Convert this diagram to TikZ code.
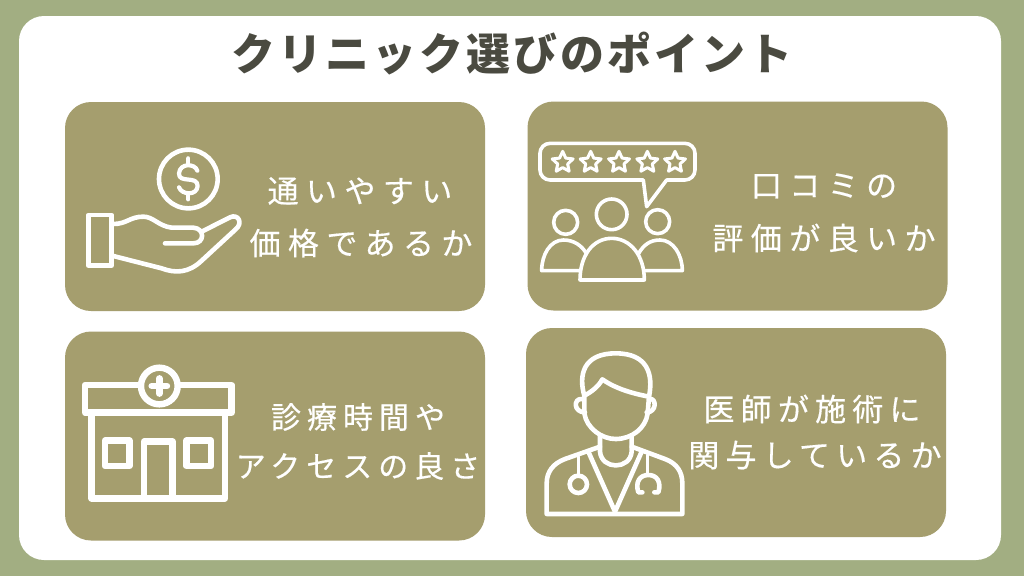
\documentclass[tikz,border=0pt]{standalone}
\usepackage{fontspec}
\usetikzlibrary{shapes.geometric, positioning}
\newfontfamily\jptitle[LetterSpace=7]{Noto Sans CJK JP}
\newfontfamily\jpwide[LetterSpace=24,FakeBold=0.4]{Noto Sans CJK JP}
\newfontfamily\jpnarrow[LetterSpace=20,FakeBold=0.4]{Noto Sans CJK JP}
\definecolor{pageback}{HTML}{A2AE82}
\definecolor{panelback}{HTML}{A59E6E}
\definecolor{titleink}{HTML}{4A4A40}

\begin{document}
\begin{tikzpicture}[
  x=1pt, y=-1pt,
  sheet/.style={draw=none, fill=white, rounded corners=25pt, minimum width=982pt, minimum height=544pt, inner sep=0pt},
  panel/.style={draw=none, fill=panelback, rounded corners=26pt, minimum width=420pt, minimum height=209pt, inner sep=0pt},
  caption/.style={text=white, align=center, inner sep=0pt},
  icon/.style={draw=white, line width=4.6pt, line join=round, line cap=round},
  thinicon/.style={icon, line width=3.6pt},
  boldicon/.style={icon, line width=6.4pt},
  starmark/.style={star, star points=5, star point ratio=2.1, draw=white, line width=3pt, minimum size=22pt, inner sep=0pt, line join=round}
]
\useasboundingbox (0,0) rectangle (1024,576);
\fill[pageback] (0,0) rectangle (1024,576);

% Sheet and title
\node[sheet] (sheet) at (510,288) {};
\node[text=titleink, inner sep=0pt] (title) at (512,54) {\jptitle\fontsize{44}{50}\selectfont\bfseries クリニック選びのポイント};

% Panels
\node[panel] (cost) at (275,206.5) {};
\node[panel] (review) at (737.5,206) {};
\node[panel] (access) at (275,436) {};
\node[panel] (doctor) at (736,432.5) {};

% Captions
\node[caption] (costtop) at (360,191) {\jpwide\fontsize{31}{36}\selectfont 通いやすい};
\node[caption] (costlow) at (361,243) {\jpwide\fontsize{31}{36}\selectfont 価格であるか};
\node[caption] (reviewtop) at (824,186) {\jpwide\fontsize{31}{36}\selectfont 口コミの};
\node[caption] (reviewlow) at (824,238) {\jpwide\fontsize{31}{36}\selectfont 評価が良いか};
\node[caption] (accesstop) at (358,417) {\jpnarrow\fontsize{30}{36}\selectfont 診療時間や};
\node[caption] (accesslow) at (358,466) {\jpnarrow\fontsize{30}{36}\selectfont アクセスの良さ};
\node[caption] (doctortop) at (812,409) {\jpnarrow\fontsize{31}{36}\selectfont 医師が施術に};
\node[caption] (doctorlow) at (815,455) {\jpnarrow\fontsize{31}{36}\selectfont 関与しているか};

% Hand and coin
\begin{scope}[shift={(65,100)}, scale=1/3]
  \draw[icon] (370,237) circle (88);
  \draw[thinicon, line width=4.2pt] (397,212) .. controls (390,190) and (345,188) .. (342,220) .. controls (340,252) and (398,225) .. (398,258) .. controls (396,288) and (350,285) .. (342,262);
  \draw[thinicon, line width=4.2pt] (370,175) -- (370,192);
  \draw[thinicon, line width=4.2pt] (370,282) -- (370,298);
  \draw[icon, line cap=butt] (70,345) rectangle (140,497);
  \draw[icon] (145,372) .. controls (185,372) and (195,350) .. (235,350) .. controls (265,350) and (280,378) .. (320,383) -- (385,383) .. controls (420,385) and (420,430) .. (385,430) -- (300,430);
  \draw[icon] (410,395) -- (495,352) .. controls (520,340) and (535,370) .. (512,388) -- (410,482) .. controls (370,520) and (330,520) .. (290,505) -- (145,468);
\end{scope}

% Speech bubble and people
\begin{scope}[shift={(525,100)}, scale=1/3]
  \draw[icon, line width=3.6pt] (355,240) -- (75,240) arc[start angle=90, end angle=180, radius=30] -- (45,160) arc[start angle=180, end angle=270, radius=30] -- (480,130) arc[start angle=-90, end angle=0, radius=30] -- (510,210) arc[start angle=0, end angle=90, radius=30] -- (425,240) -- (365,320) -- cycle;
  \foreach \n/\sx in {1/113, 2/197, 3/282, 4/367, 5/450} {
    \node[starmark] (star\n) at (\sx,187) {};
  }
  \draw[thinicon] (122,367) circle (36);
  \draw[thinicon] (260,343) circle (46);
  \draw[thinicon] (398,365) circle (36);
  \draw[thinicon] (165,540) .. controls (165,465) and (205,415) .. (260,415) .. controls (315,415) and (358,465) .. (358,540) -- cycle;
  \draw[thinicon] (185,462) .. controls (170,435) and (145,420) .. (115,420) .. controls (75,420) and (50,465) .. (50,512) -- (165,512);
  \draw[thinicon] (340,462) .. controls (355,435) and (375,420) .. (405,420) .. controls (445,420) and (472,465) .. (472,512) -- (358,512);
\end{scope}

% Clinic building
\begin{scope}[shift={(65,330)}, scale=1/3]
  \draw[boldicon, line cap=butt, fill=panelback] (60,165) rectangle (500,248);
  \draw[boldicon, line cap=butt] (80,248) rectangle (480,505);
  \draw[boldicon, fill=panelback] (283,168) circle (55);
  \draw[boldicon] (283,145) -- (283,191);
  \draw[boldicon] (260,168) -- (306,168);
  \draw[boldicon, line cap=butt] (237,505) -- (237,335) -- (323,335) -- (323,505);
  \draw[boldicon] (120,332) rectangle (193,408);
  \draw[boldicon] (364,332) rectangle (438,408);
\end{scope}

% Doctor
\begin{scope}[shift={(525,325)}, scale=1/3]
  \draw[icon] (178,212) .. controls (160,150) and (175,85) .. (272,85) .. controls (370,85) and (385,150) .. (372,215) .. controls (320,205) and (270,190) .. (232,163) .. controls (220,185) and (200,200) .. (178,212) -- cycle;
  \draw[icon] (178,212) -- (178,265) .. controls (185,310) and (230,342) .. (272,342) .. controls (320,342) and (362,310) .. (368,265) -- (372,215);
  \draw[icon] (170,222) .. controls (145,220) and (145,262) .. (180,262);
  \draw[icon] (375,222) .. controls (395,220) and (395,262) .. (365,262);
  \draw[icon] (225,332) -- (225,380) .. controls (230,435) and (315,435) .. (320,380) -- (320,332);
  \draw[icon] (225,365) -- (120,402) .. controls (85,415) and (65,440) .. (65,475) -- (65,567) -- (472,567) -- (472,475) .. controls (472,440) and (455,415) .. (420,402) -- (320,365);
  \draw[icon] (190,380) -- (270,560) -- (350,380);
  \draw[thinicon] (160,395) -- (160,452);
  \draw[icon] (160,478) circle (26);
  \draw[thinicon] (368,390) -- (368,448);
  \draw[icon] (352,502) -- (340,502) .. controls (330,470) and (345,450) .. (370,450) .. controls (395,450) and (410,470) .. (400,502) -- (388,502);
\end{scope}
\end{tikzpicture}
\end{document}
